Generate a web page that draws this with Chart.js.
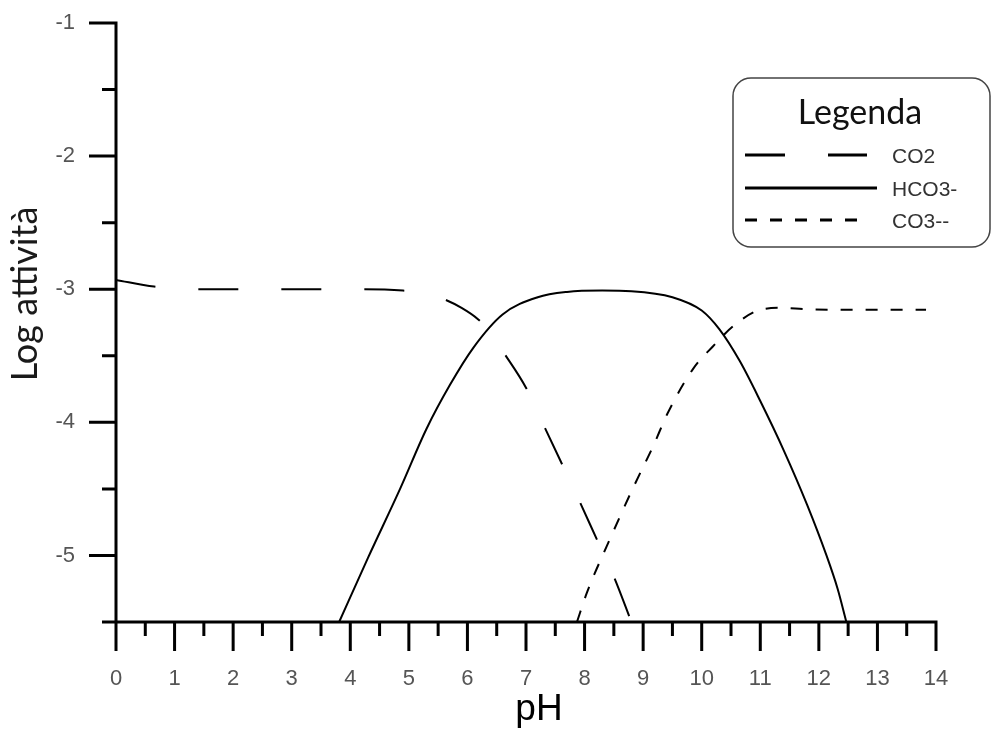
<!DOCTYPE html>
<html>
<head>
<meta charset="utf-8">
<script src="https://cdn.jsdelivr.net/npm/chart.js@4"></script>
<style>
  html, body { margin: 0; padding: 0; background: #fff; }
  #wrap { width: 991px; height: 731px; }
</style>
</head>
<body>
<div id="wrap"><canvas id="phChart" width="991" height="731"></canvas></div>
<script>
// valori
const co2pH  = [0, 0.65, 1.5, 3, 4.2, 4.9, 5.3, 5.6, 5.9, 6.18, 6.4, 6.61, 7.0, 7.3, 7.6, 7.9, 8.2, 8.5, 8.8];
const co2Log = [-2.93, -2.98, -3.0, -3.0, -3.0, -3.01, -3.03, -3.075, -3.14, -3.225, -3.33, -3.47, -3.74, -4.02, -4.3, -4.58, -4.87, -5.16, -5.5];

const hco3pH  = [3.81, 4.3, 4.85, 5.3, 5.7, 6.1, 6.6, 7.2, 7.7, 8.3, 8.8, 9.5, 10.0, 10.3, 10.65, 11.0, 11.4, 11.8, 12.13, 12.32, 12.47];
const hco3Log = [-5.5, -5.02, -4.5, -4.05, -3.72, -3.44, -3.19, -3.06, -3.02, -3.01, -3.015, -3.06, -3.16, -3.3, -3.54, -3.84, -4.21, -4.62, -5.0, -5.25, -5.5];

const co3pH  = [7.87, 8.04, 8.43, 8.82, 9.17, 9.42, 9.85, 10.19, 10.53, 10.93, 11.33, 11.79, 12.5, 13.83];
const co3Log = [-5.5, -5.28, -4.88, -4.5, -4.18, -3.93, -3.6, -3.43, -3.28, -3.165, -3.14, -3.15, -3.155, -3.155];

const xTicks = [0, 1, 2, 3, 4, 5, 6, 7, 8, 9, 10, 11, 12, 13, 14];
const xMinor = [0.5, 1.5, 2.5, 3.5, 4.5, 5.5, 6.5, 7.5, 8.5, 9.5, 10.5, 11.5, 12.5, 13.5];
const yTicks = [-1, -2, -3, -4, -5];
const yMinor = [-1.5, -2.5, -3.5, -4.5, -5.5];

const seriesNames = ["CO2", "HCO3-", "CO3--"];

function pts(xs, ys) {
    return xs.map((x, i) => ({ x: x, y: ys[i] }));
}

// assi, tacche e titoli disegnati a mano
const axesPlugin = {
    id: "axes",
    afterDatasetsDraw(chart) {
        const { ctx, scales: { x, y } } = chart;
        const x0 = x.getPixelForValue(0);
        const x14 = x.getPixelForValue(14);
        const yb = y.getPixelForValue(-5.5);
        const yt = y.getPixelForValue(-1);
        ctx.save();
        ctx.strokeStyle = "#000";
        ctx.lineWidth = 3;
        ctx.beginPath();
        ctx.moveTo(x0, yt - 1.5); ctx.lineTo(x0, yb);
        ctx.moveTo(x0 - 14, yb); ctx.lineTo(x14 + 1.5, yb);
        yTicks.forEach(v => { const p = y.getPixelForValue(v); ctx.moveTo(x0 - 27, p); ctx.lineTo(x0, p); });
        yMinor.forEach(v => { const p = y.getPixelForValue(v); ctx.moveTo(x0 - 14, p); ctx.lineTo(x0, p); });
        xTicks.forEach(v => { const p = x.getPixelForValue(v); ctx.moveTo(p, yb); ctx.lineTo(p, yb + 29); });
        xMinor.forEach(v => { const p = x.getPixelForValue(v); ctx.moveTo(p, yb); ctx.lineTo(p, yb + 14); });
        ctx.stroke();

        ctx.fillStyle = "#000";
        ctx.font = "37px 'Liberation Sans'";
        ctx.textAlign = "center";
        ctx.textBaseline = "alphabetic";
        ctx.fillText("pH", 539, 720);

        ctx.fillStyle = "#1a1a1a";
        ctx.font = "36px Lato";
        ctx.translate(25, 294);
        ctx.rotate(-Math.PI / 2);
        ctx.textBaseline = "middle";
        ctx.fillText("Log attività", 0, 0);
        ctx.restore();
    }
};

// legenda con bordo arrotondato
const legendPlugin = {
    id: "legendBox",
    afterDraw(chart) {
        const ctx = chart.ctx;
        const bx = 733, by = 78, bw = 257, bh = 169, r = 18;
        ctx.save();
        ctx.strokeStyle = "#444";
        ctx.lineWidth = 1.5;
        ctx.beginPath();
        ctx.moveTo(bx + r, by);
        ctx.arcTo(bx + bw, by, bx + bw, by + bh, r);
        ctx.arcTo(bx + bw, by + bh, bx, by + bh, r);
        ctx.arcTo(bx, by + bh, bx, by, r);
        ctx.arcTo(bx, by, bx + bw, by, r);
        ctx.closePath();
        ctx.stroke();

        ctx.fillStyle = "#111";
        ctx.font = "34px Lato";
        ctx.textAlign = "center";
        ctx.textBaseline = "middle";
        ctx.fillText("Legenda", 860, 113);

        const rows = [155, 188, 220];
        const ends = [867, 877, 867];
        ctx.font = "21px 'Liberation Sans'";
        ctx.textAlign = "left";
        chart.data.datasets.forEach((ds, i) => {
            ctx.strokeStyle = "#000";
            ctx.lineWidth = 3;
            ctx.setLineDash(ds.borderDash || []);
            ctx.beginPath();
            ctx.moveTo(745, rows[i]);
            ctx.lineTo(ends[i], rows[i]);
            ctx.stroke();
            ctx.setLineDash([]);
            ctx.fillStyle = "#333";
            ctx.fillText(ds.label, 892, rows[i] + 2);
        });
        ctx.restore();
    }
};

const lineStyle = {
    showLine: true,
    borderColor: "#000",
    borderWidth: 2,
    pointRadius: 0,
    cubicInterpolationMode: "monotone"
};

new Chart(document.getElementById("phChart").getContext("2d"), {
    type: "scatter",
    data: {
        datasets: [
            Object.assign({ label: seriesNames[0], data: pts(co2pH, co2Log), borderDash: [40, 43] }, lineStyle),
            Object.assign({ label: seriesNames[1], data: pts(hco3pH, hco3Log), borderDash: [] }, lineStyle),
            Object.assign({ label: seriesNames[2], data: pts(co3pH, co3Log), borderDash: [12, 13] }, lineStyle)
        ]
    },
    options: {
        responsive: false,
        animation: false,
        layout: { padding: { top: 23, right: 55, left: 0, bottom: 0 } },
        plugins: {
            legend: { display: false },
            tooltip: { enabled: false }
        },
        scales: {
            x: {
                type: "linear",
                min: 0,
                max: 14,
                afterBuildTicks: s => { s.ticks = xTicks.map(v => ({ value: v })); },
                afterFit: s => { s.height = 109; s.paddingLeft = 0; s.paddingRight = 0; },
                grid: { display: false, drawTicks: false },
                border: { display: false },
                ticks: { color: "#555", padding: 44, maxRotation: 0, font: { family: "Liberation Sans", size: 22 } }
            },
            y: {
                min: -5.5,
                max: -1,
                afterBuildTicks: s => { s.ticks = yTicks.map(v => ({ value: v })); },
                afterFit: s => { s.width = 116; s.paddingTop = 0; s.paddingBottom = 0; },
                grid: { display: false, drawTicks: false },
                border: { display: false },
                ticks: { color: "#555", padding: 41, font: { family: "Liberation Sans", size: 22 } }
            }
        }
    },
    plugins: [axesPlugin, legendPlugin]
});
</script>
</body>
</html>
